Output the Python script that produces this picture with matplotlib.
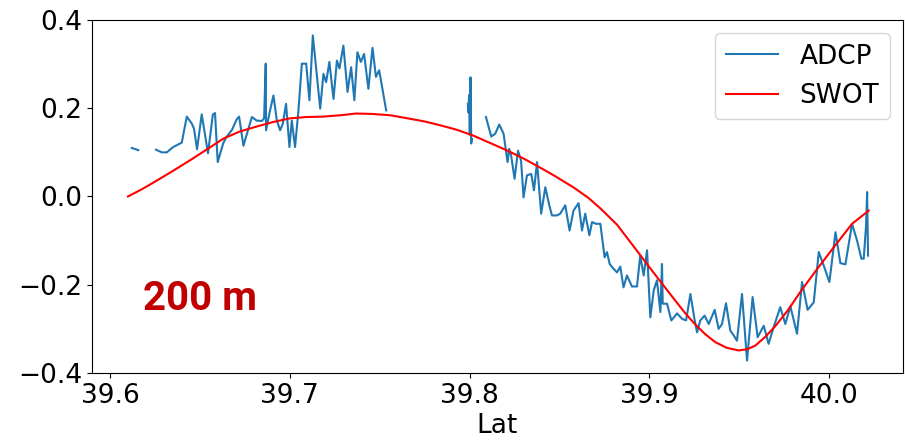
import numpy as np
import matplotlib
matplotlib.use("Agg")
import matplotlib.pyplot as plt

nan = np.nan

# ADCP along-track values, gaps marked with nan
adcp_lat = [
    39.6121, 39.6157, nan,
    39.6256, 39.6288, 39.6316, 39.6351, 39.6399, 39.6427, 39.6455, 39.6467,
    39.6484, 39.6510, 39.6545, 39.6572, 39.6584, 39.6599, 39.6629, 39.6646,
    39.6677, 39.6705, 39.6718, 39.6742, 39.6789, 39.6816, 39.6844, 39.6857,
    39.6866, 39.6868, 39.6890, 39.6909, 39.6928, 39.6946, 39.6961, 39.6979,
    39.6998, 39.7011, 39.7029, 39.7048, 39.7067, 39.7091, 39.7109, 39.7128,
    39.7146, 39.7169, 39.7187, 39.7202, 39.7220, 39.7243, 39.7262, 39.7276,
    39.7298, 39.7321, 39.7341, 39.7359, 39.7376, 39.7395, 39.7413, 39.7437,
    39.7460, 39.7479, 39.7497, 39.7536, nan,
    39.7990, 39.7994, 39.7997, 39.8001, 39.8005, 39.8009, 39.8012, nan,
    39.8091, 39.8120, 39.8142, 39.8165, 39.8189, 39.8211, 39.8220, 39.8231,
    39.8250, 39.8269, 39.8286, 39.8300, 39.8319, 39.8343, 39.8358, 39.8375,
    39.8398, 39.8421, 39.8443, 39.8458, 39.8486, 39.8504, 39.8532, 39.8556,
    39.8578, 39.8606, 39.8625, 39.8643, 39.8666, 39.8681, 39.8703, 39.8727,
    39.8751, 39.8764, 39.8779, 39.8801, 39.8820, 39.8838, 39.8856, 39.8875,
    39.8903, 39.8931, 39.8949, 39.8968, 39.8987, 39.9005, 39.9024, 39.9042,
    39.9061, 39.9070, 39.9074, 39.9098, 39.9122, 39.9154, 39.9181, 39.9204,
    39.9228, 39.9252, 39.9265, 39.9283, 39.9307, 39.9330, 39.9363, 39.9385,
    39.9404, 39.9426, 39.9450, 39.9469, 39.9487, 39.9515, 39.9543, 39.9574,
    39.9602, 39.9636, 39.9663, 39.9691, 39.9728, 39.9756, 39.9784, 39.9821,
    39.9849, 39.9880, 39.9914, 39.9942, 39.9969, 40.0001, 40.0035, 40.0062,
    40.0090, 40.0127, 40.0155, 40.0179, 40.0192, 40.0205, 40.0211, 40.0216,
]
adcp_val = [
    0.110, 0.105, nan,
    0.106, 0.100, 0.100, 0.112, 0.122, 0.181, 0.165, 0.154,
    0.107, 0.186, 0.098, 0.186, 0.189, 0.078, 0.120, 0.134,
    0.150, 0.175, 0.181, 0.115, 0.180, 0.172, 0.171, 0.177,
    0.301, 0.150, 0.195, 0.229, 0.172, 0.150, 0.165, 0.210,
    0.112, 0.172, 0.112, 0.195, 0.301, 0.301, 0.218, 0.365,
    0.293, 0.199, 0.278, 0.259, 0.305, 0.221, 0.308, 0.290,
    0.342, 0.237, 0.293, 0.218, 0.327, 0.305, 0.323, 0.244,
    0.337, 0.271, 0.286, 0.195, nan,
    0.21, 0.19, 0.23, 0.14, 0.27, 0.12, 0.13, nan,
    0.180, 0.136, 0.142, 0.163, 0.142, 0.078, 0.108, 0.093,
    0.040, 0.104, 0.082, -0.002, 0.048, 0.051, 0.014, 0.078,
    -0.039, 0.021, -0.020, -0.043, -0.043, -0.039, -0.020, -0.077,
    -0.032, -0.015, -0.077, -0.039, -0.088, -0.058, -0.062, -0.062,
    -0.138, -0.126, -0.153, -0.164, -0.172, -0.159, -0.206, -0.179,
    -0.204, -0.204, -0.134, -0.179, -0.122, -0.274, -0.213, -0.190,
    -0.262, -0.153, -0.243, -0.243, -0.281, -0.265, -0.277, -0.281,
    -0.221, -0.281, -0.308, -0.281, -0.270, -0.289, -0.257, -0.300,
    -0.289, -0.242, -0.304, -0.315, -0.327, -0.221, -0.372, -0.228,
    -0.319, -0.293, -0.334, -0.296, -0.251, -0.289, -0.249, -0.311,
    -0.194, -0.257, -0.240, -0.126, -0.156, -0.194, -0.081, -0.151,
    -0.154, -0.062, -0.100, -0.141, -0.141, -0.066, 0.010, -0.134,
]

# SWOT smooth profile
swot_lat = [
    39.610, 39.618, 39.626, 39.635, 39.6445, 39.654, 39.663, 39.672,
    39.682, 39.691, 39.700, 39.709, 39.7185, 39.728, 39.737, 39.746,
    39.756, 39.767, 39.775, 39.784, 39.793, 39.802, 39.811, 39.821,
    39.830, 39.839, 39.848, 39.858, 39.866, 39.873, 39.882, 39.891,
    39.9005, 39.9075, 39.9144, 39.920, 39.9255, 39.931, 39.9366, 39.943,
    39.9497, 39.9545, 39.9589, 39.9645, 39.970, 39.977, 39.984, 39.993,
    40.002, 40.0127, 40.022,
]
swot_val = [
    0.000, 0.017, 0.036, 0.058, 0.082, 0.107, 0.131, 0.147,
    0.159, 0.169, 0.177, 0.180, 0.181, 0.184, 0.188, 0.187,
    0.184, 0.176, 0.170, 0.161, 0.151, 0.138, 0.122, 0.104,
    0.086, 0.066, 0.045, 0.020, -0.003, -0.028, -0.064, -0.112,
    -0.163, -0.200, -0.236, -0.265, -0.290, -0.312, -0.330, -0.343,
    -0.349, -0.346, -0.338, -0.318, -0.294, -0.258, -0.216, -0.166,
    -0.118, -0.062, -0.032,
]

fig = plt.figure(figsize=(9.05, 4.44), dpi=100)
ax = fig.add_axes([0.1017, 0.160, 0.896, 0.795])

ax.plot(adcp_lat, adcp_val, color="#1f77b4", lw=1.5, label="ADCP")
ax.plot(swot_lat, swot_val, color="red", lw=1.5, label="SWOT")

ax.set_xlim(39.59, 40.041)
ax.set_ylim(-0.4, 0.4)
ax.set_xticks([39.6, 39.7, 39.8, 39.9, 40.0])
ax.set_yticks([-0.4, -0.2, 0.0, 0.2, 0.4])
ax.tick_params(labelsize=19)
ax.set_xlabel("Lat", fontsize=19, labelpad=3)

ax.text(0.063, 0.178, "200 m", transform=ax.transAxes, fontsize=29,
        fontweight="bold", family="Roboto", color="#c00000", va="baseline")

ax.legend(loc="upper right", fontsize=19)

fig.savefig("out.png", dpi=100)
